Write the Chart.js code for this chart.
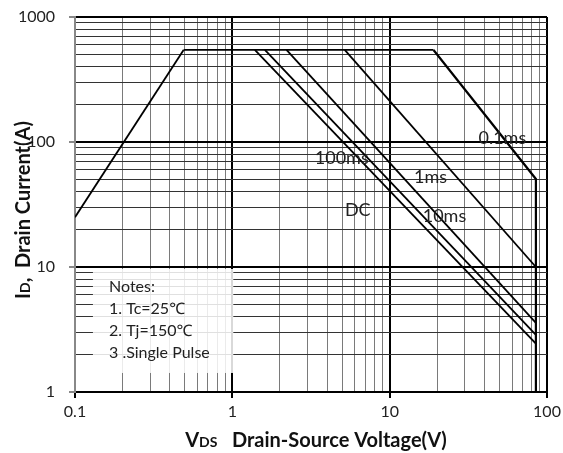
<!DOCTYPE html>
<html>
<head>
<meta charset="utf-8">
<script src="https://cdn.jsdelivr.net/npm/chart.js@4.4.1/dist/chart.umd.min.js"></script>
<style>
  html, body { margin: 0; padding: 0; background: #fff; }
  #wrap { width: 563px; height: 453px; }
</style>
</head>
<body>
<div id="wrap"><canvas id="soa" width="563" height="453"></canvas></div>
<script>
// ── SOA data ─────────────────────────────────────────────────────────────────
const rdsV     = [0.1, 0.49];        const rdsI     = [25, 545];
const plateauV = [0.49, 19];         const plateauI = [545, 545];
const us100V   = [19, 85, 85];       const us100I   = [545, 50.6, 1];
const ms1V     = [5.18, 85];         const ms1I     = [545, 10];
const ms10V    = [2.21, 85];         const ms10I    = [545, 3.57];
const ms100V   = [1.61, 85];         const ms100I   = [545, 2.87];
const dcV      = [1.39, 85];         const dcI      = [545, 2.44];

const curveLabels = ['0.1ms', '1ms', '10ms', '100ms', 'DC'];
const labelV      = [52, 18.2, 22.3, 4.96, 6.27];
const labelI      = [108, 52.5, 25.6, 74.5, 28.6];

const xTickVals   = [0.1, 1, 10, 100];
const xTickLabels = ['0.1', '1', '10', '100'];
const yTickVals   = [1, 10, 100, 1000];
const yTickLabels = ['1', '10', '100', '1000'];

const notes = ['Notes:', '1. Tc=25\u2103', '2. Tj=150\u2103', '3 .Single Pulse'];

const FONT = 'Lato, "Noto Sans", sans-serif';
const pts = (xs, ys) => xs.map((x, i) => ({ x, y: ys[i] }));
const isMajor = (v, majors) => majors.some(m => Math.abs(v - m) / m < 1e-6);

// all 1..9 multiples per decade, used as grid positions
function decadeTicks(lo, hi) {
  const out = [];
  for (let d = lo; d < hi; d *= 10) for (let k = 1; k < 10; k++) out.push(+(d * k).toPrecision(6));
  out.push(hi);
  return out.map(value => ({ value }));
}

const line = (xs, ys, w) => ({
  data: pts(xs, ys), showLine: true, borderColor: '#000', borderWidth: w || 1.8,
  pointRadius: 0, fill: false, tension: 0
});

// notes box, curve labels and the mixed-size axis titles
const overlay = {
  id: 'overlay',
  beforeDatasetsDraw(chart) {
    const { ctx, scales: { x, y } } = chart;
    const l = x.getPixelForValue(0.13), r = x.getPixelForValue(1) + 1;
    const t = y.getPixelForValue(10) + 2, b = y.getPixelForValue(1.42);
    ctx.save();
    ctx.fillStyle = 'rgba(255,255,255,0.85)';
    ctx.fillRect(l, t, r - l, b - t);
    ctx.restore();
  },
  afterDraw(chart) {
    const { ctx, scales: { x, y } } = chart;
    ctx.save();
    ctx.fillStyle = '#222';
    ctx.textBaseline = 'middle';
    ctx.textAlign = 'center';
    ctx.font = '18px ' + FONT;
    curveLabels.forEach((s, i) => ctx.fillText(s, x.getPixelForValue(labelV[i]), y.getPixelForValue(labelI[i])));

    ctx.textAlign = 'left';
    ctx.font = '16px ' + FONT;
    const nx = x.getPixelForValue(0.1) + 34;
    notes.forEach((s, i) => ctx.fillText(s, nx, 287 + i * 22));

    // titles: big letter + small subscript-caps + rest
    function rich(parts, cx, cy, rot) {
      ctx.save();
      ctx.translate(cx, cy);
      ctx.rotate(rot);
      ctx.fillStyle = '#111';
      ctx.textBaseline = 'alphabetic';
      let w = 0;
      parts.forEach(p => { ctx.font = p[1]; w += ctx.measureText(p[0]).width; });
      let px = -w / 2;
      parts.forEach(p => { ctx.font = p[1]; ctx.fillText(p[0], px, 7); px += ctx.measureText(p[0]).width; });
      ctx.restore();
    }
    const big = 'bold 20px ' + FONT, small = 'bold 14px ' + FONT;
    rich([['V', big], ['DS', small], ['   Drain-Source Voltage(V)', big]], 316, 440, 0);
    rich([['I', big], ['D', small], [',  Drain Current(A)', big]], 23, 210, -Math.PI / 2);
    ctx.restore();
  }
};

new Chart(document.getElementById('soa'), {
  type: 'scatter',
  data: { datasets: [
    line(rdsV, rdsI), line(plateauV, plateauI), line(us100V, us100I, 2.2),
    line(ms1V, ms1I), line(ms10V, ms10I), line(ms100V, ms100I), line(dcV, dcI)
  ] },
  options: {
    responsive: false, animation: false,
    layout: { padding: { top: 17, right: 16, left: 0, bottom: 0 } },
    plugins: { legend: { display: false }, tooltip: { enabled: false } },
    scales: {
      x: {
        type: 'logarithmic', min: 0.1, max: 100,
        afterBuildTicks: s => { s.ticks = decadeTicks(0.1, 100); },
        afterFit: s => { s.height = 61; s.paddingLeft = 0; s.paddingRight = 0; },
        border: { color: '#000', width: 2 },
        grid: {
          color: c => isMajor(c.tick.value, xTickVals) ? '#000' : '#7a7a7a',
          lineWidth: c => isMajor(c.tick.value, xTickVals) ? 2 : 1,
          tickColor: c => isMajor(c.tick.value, xTickVals) ? '#000' : 'rgba(0,0,0,0)',
          tickLength: 6
        },
        ticks: {
          autoSkip: false, maxRotation: 0, padding: 4, color: '#222',
          font: { family: FONT, size: 16 },
          callback: v => { const i = xTickVals.findIndex(m => Math.abs(v - m) / m < 1e-6); return i < 0 ? '' : xTickLabels[i]; }
        }
      },
      y: {
        type: 'logarithmic', min: 1, max: 1000,
        afterBuildTicks: s => { s.ticks = decadeTicks(1, 1000); },
        afterFit: s => { s.width = 75; s.paddingTop = 0; s.paddingBottom = 0; },
        border: { color: '#888', width: 2 },
        grid: {
          color: c => isMajor(c.tick.value, yTickVals) ? '#000' : '#333',
          lineWidth: c => isMajor(c.tick.value, yTickVals) ? 2 : 1,
          tickColor: c => isMajor(c.tick.value, yTickVals) ? '#888' : 'rgba(0,0,0,0)',
          tickLength: 6
        },
        ticks: {
          autoSkip: false, padding: 14, color: '#222',
          font: { family: FONT, size: 16 },
          callback: v => { const i = yTickVals.findIndex(m => Math.abs(v - m) / m < 1e-6); return i < 0 ? '' : yTickLabels[i]; }
        }
      }
    }
  },
  plugins: [overlay]
});
</script>
</body>
</html>
